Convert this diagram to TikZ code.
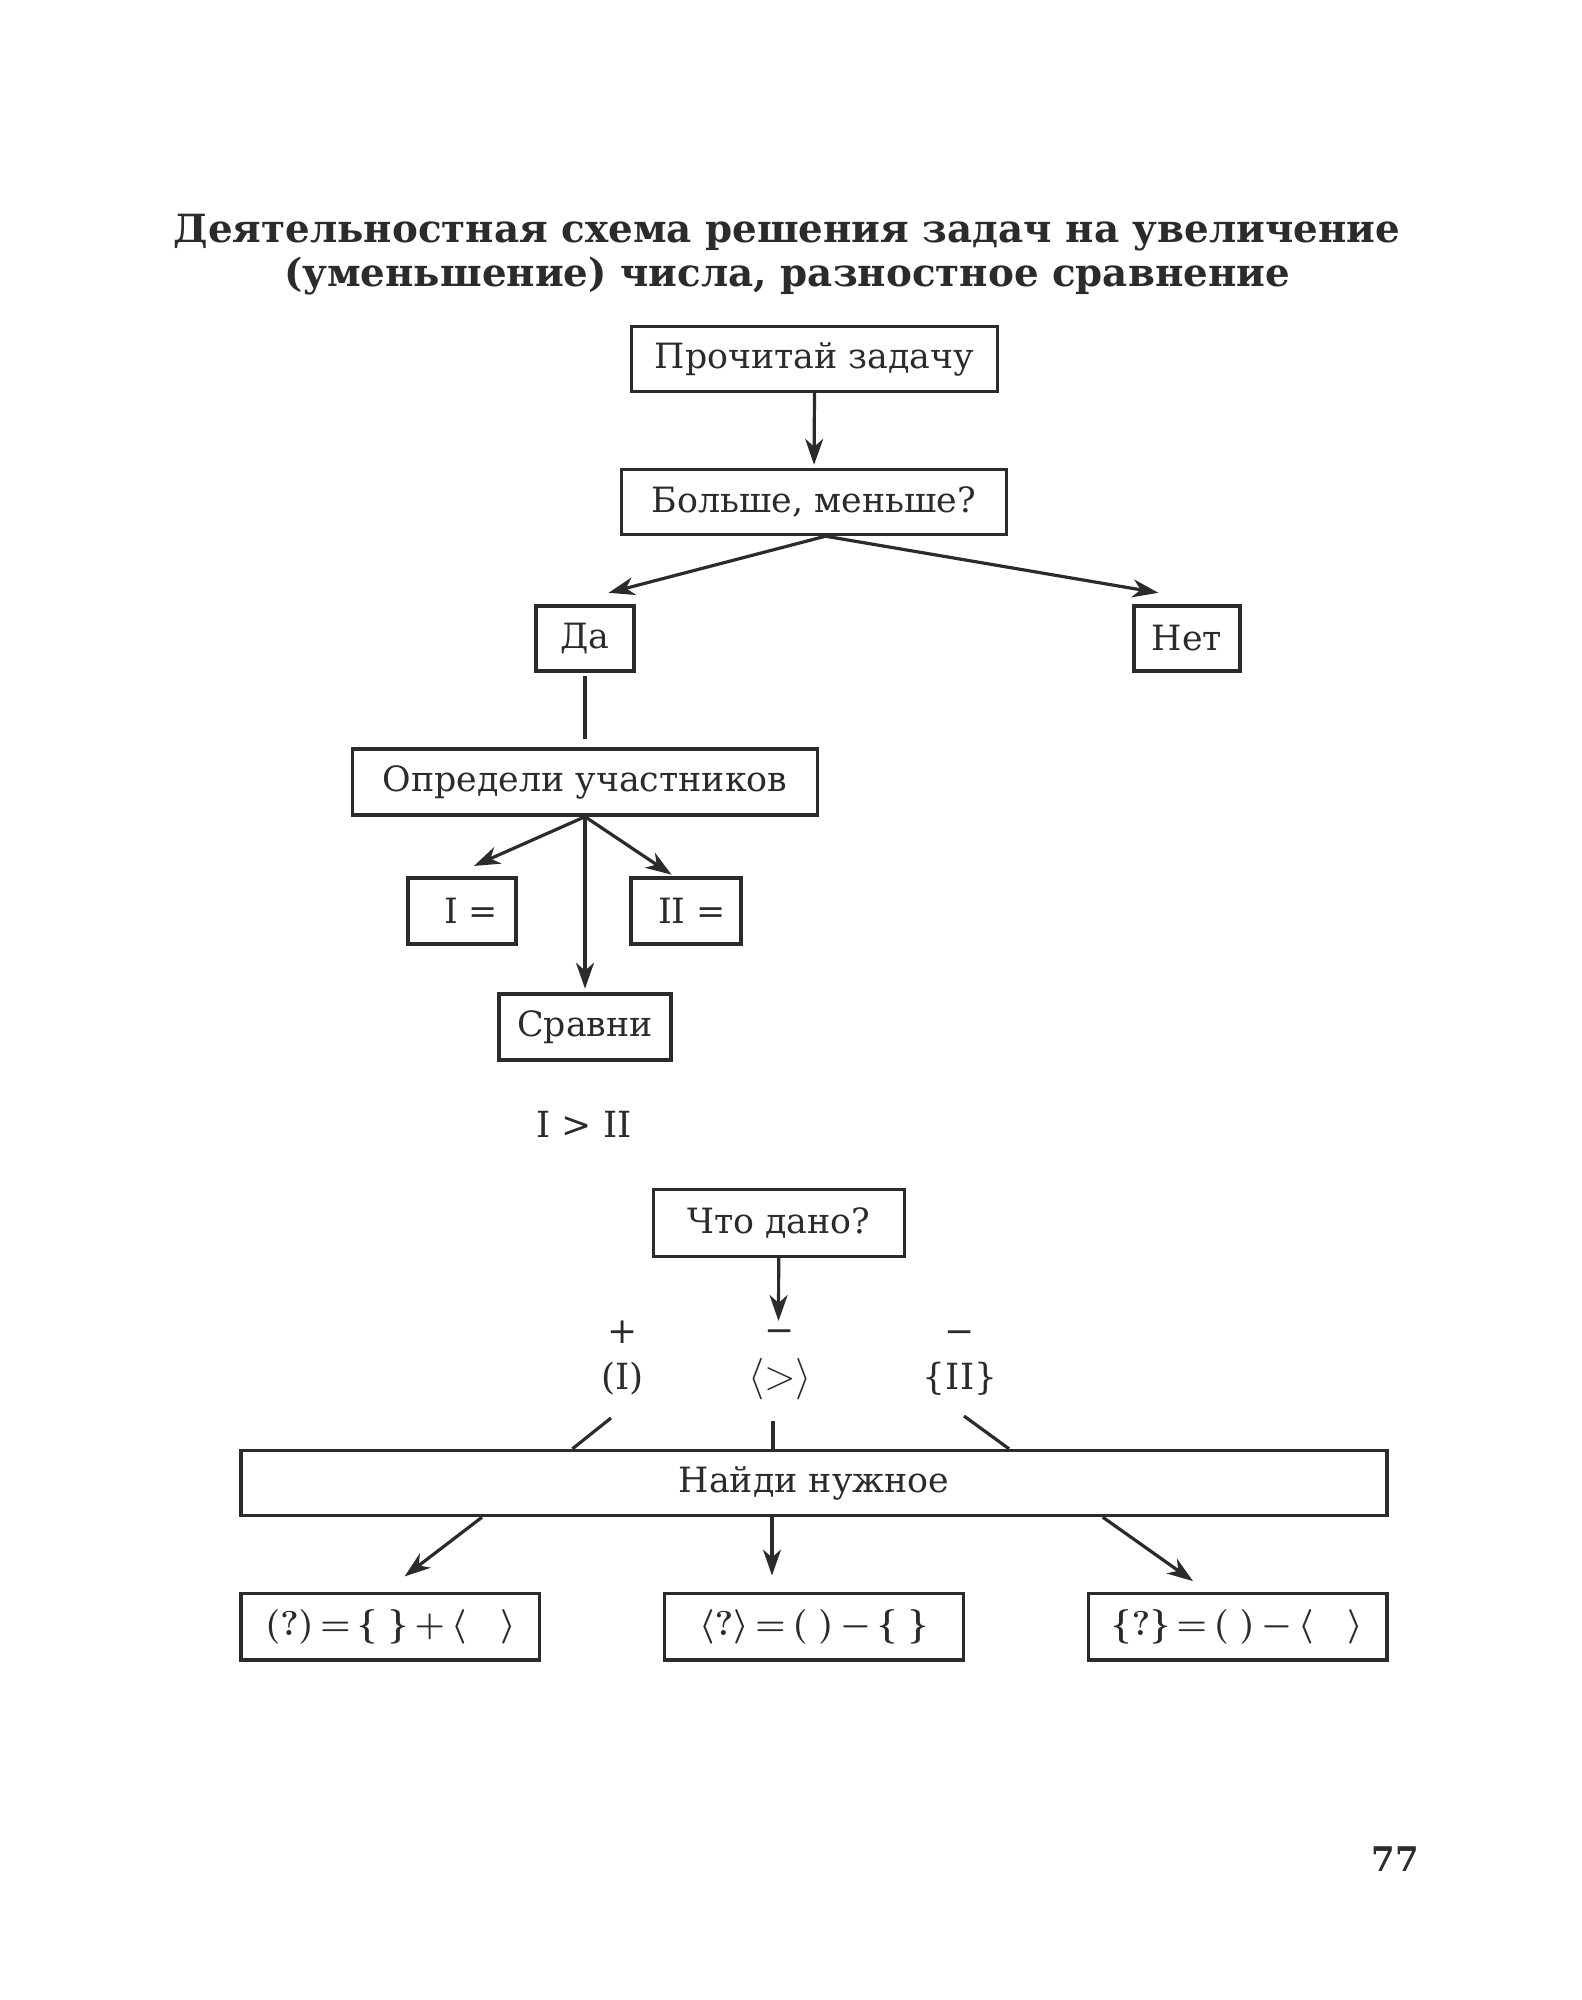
\documentclass[tikz,border=0pt]{standalone}
\usepackage{fontspec}
\setmainfont{DejaVu Serif}
\usetikzlibrary{arrows.meta}
\definecolor{ink}{HTML}{2B2B2B}
\begin{document}
\begin{tikzpicture}[x=0.5pt,y=-0.5pt,
  box/.style={draw=ink, line width=1.7pt, inner sep=0pt, text=ink, font=\fontsize{17.4}{20}\selectfont},
  conn/.style={draw=ink, line width=1.6pt},
  arr/.style={conn, -{Stealth[length=13pt,width=9pt,inset=4pt]}},
  lbl/.style={text=ink, inner sep=0pt, font=\fontsize{18}{21}\selectfont},
  ttl/.style={text=ink, inner sep=0pt, font=\fontsize{19.4}{22}\bfseries\selectfont},
  fml/.style={box, font=\fontsize{18.5}{21}\selectfont\boldmath}]
\fill[white] (0,0) rectangle (1582,2000);
\useasboundingbox (0,0) rectangle (1582,2000);

% title
\node[ttl] (t1) at (787,233) {Деятельностная схема решения задач на увеличение};
\node[ttl] (t2) at (787,276) {(уменьшение) числа, разностное сравнение};

% upper part
\node[box, minimum width=183pt, minimum height=32.5pt] (A) at (814.5,359) {Прочитай задачу};
\node[box, minimum width=192.5pt, minimum height=32.5pt] (B) at (814,502) {Больше, меньше?};
\node[box, minimum width=49pt, minimum height=32.5pt] (Da) at (585,638.5) {Да};
\node[box, minimum width=53pt, minimum height=32.5pt] (Net) at (1187,638.5) {Нет};
\node[box, minimum width=232.5pt, minimum height=33pt] (Opr) at (585,782) {Определи участников};
\node[box, minimum width=54pt, minimum height=33pt] (I) at (462,911) {\hspace{9pt}I =};
\node[box, minimum width=55pt, minimum height=33pt] (II) at (686,911) {\hspace{6pt}II =};
\node[box, minimum width=86pt, minimum height=33pt] (Sr) at (585,1027) {Сравни};
\node[lbl] (cmp) at (584,1124) {I > II};

\draw[arr, shorten >=1.5pt] (A.south) -- (B.north);
\draw[arr] ([xshift=5.75pt]B.south) -- ([xshift=11.8pt,yshift=5.75pt]Da.north);
\draw[arr] ([xshift=5.75pt]B.south) -- ([xshift=-14.3pt,yshift=5.75pt]Net.north);
\draw[conn, shorten <=1.5pt, shorten >=4pt] (Da.south) -- (Opr.north);
\draw[arr] (Opr.south) -- ([xshift=6pt,yshift=5.2pt]I.north);
\draw[arr] (Opr.south) -- ([xshift=-7.2pt,yshift=0.8pt]II.north);
\draw[arr, shorten >=1.8pt] (Opr.south) -- (Sr.north);

% lower part
\node[box, minimum width=125.5pt, minimum height=33.5pt] (Chto) at (778.7,1222.7) {Что дано?};
\node[lbl] (plus) at (622.3,1332) {+};
\node[lbl] (min1) at (780,1336) {−};
\node[lbl] (min2) at (959.3,1337) {−};
\node[lbl] (lI) at (622.7,1379) {(I)};
\node[lbl, font=\fontsize{21}{23}\selectfont] (lG) at (780,1379) {$\langle{>}\rangle$};
\node[lbl] (lII) at (960,1379) {\{II\}};
\coordinate (m1top) at (778.5,1321);
\draw[arr] (Chto.south) -- (m1top);

\node[box, minimum width=573pt, minimum height=32.5pt] (N) at (814,1483) {Найди нужное};
\coordinate (sI) at (611,1418);
\coordinate (sG) at (773,1421);
\coordinate (sII) at (964,1416);
\draw[conn] (sI) -- ([xshift=-120.8pt]N.north);
\draw[conn] (sG) -- ([xshift=-20.5pt]N.north);
\draw[conn] (sII) -- ([xshift=97.5pt]N.north);

\node[fml, minimum width=149.3pt, minimum height=33.2pt] (F1) at (390.4,1626.8) {$(?)\,{=}\,\{\;\}\,{+}\,\langle\;\;\;\rangle$};
\node[fml, minimum width=149.3pt, minimum height=33.2pt] (F2) at (814,1626.8) {$\langle ?\rangle\,{=}\,(\;)\,{-}\,\{\;\}$};
\node[fml, minimum width=149.3pt, minimum height=33.2pt] (F3) at (1237.5,1626.8) {$\{?\}\,{=}\,(\;)\,{-}\,\langle\;\;\;\rangle$};

\draw[arr] ([xshift=-166pt]N.south) -- ([xshift=7.1pt,yshift=7.75pt]F1.north);
\draw[arr] ([xshift=-21pt]N.south) -- ([xshift=-21pt,yshift=8.2pt]F2.north);
\draw[arr] ([xshift=144.4pt]N.south) -- ([xshift=-22.25pt,yshift=5.4pt]F3.north);

\node[text=ink, inner sep=0pt, font=\fontsize{17}{20}\bfseries\selectfont] (pg) at (1395,1859) {77};
\end{tikzpicture}
\end{document}
